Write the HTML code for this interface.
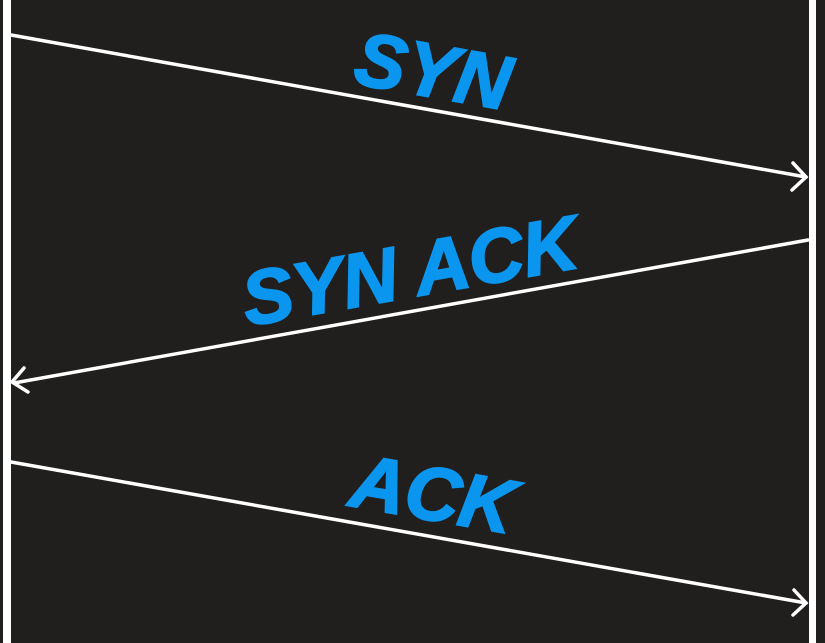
<!DOCTYPE html>
<html><head><style>
html,body{margin:0;padding:0;background:#201f1e;}
body{width:825px;height:643px;overflow:hidden;position:relative;}
.t{position:absolute;font-family:"Liberation Sans",sans-serif;font-weight:bold;font-style:italic;color:#0a96ee;-webkit-text-stroke:2px #0a96ee;font-size:76px;white-space:nowrap;transform-origin:center center;line-height:1;}
</style></head><body>
<svg width="825" height="643" style="position:absolute;left:0;top:0">
<rect x="3" y="0" width="8" height="643" fill="#fff"/>
<rect x="809" y="0" width="7" height="643" fill="#fff"/>
<g stroke="#fff" stroke-width="3.5" fill="none" stroke-linecap="round">
<line x1="11" y1="35" x2="806" y2="177"/>
<polyline points="793,163 806,177 792,190"/>
<line x1="808" y1="240" x2="14" y2="383"/>
<polyline points="24,368 12,382 28,392"/>
<line x1="11" y1="462" x2="806" y2="603"/>
<polyline points="794,590 806,603 793,615"/>
</g>
</svg>
<div class="t" style="left:433px;top:72px;transform:translate(-50%,-50%) rotate(10deg)">SYN</div>
<div class="t" style="left:410px;top:272px;transform:translate(-50%,-50%) rotate(-10deg)">SYN ACK</div>
<div class="t" style="left:433px;top:495px;transform:translate(-50%,-50%) rotate(10deg)">ACK</div>
</body></html>
